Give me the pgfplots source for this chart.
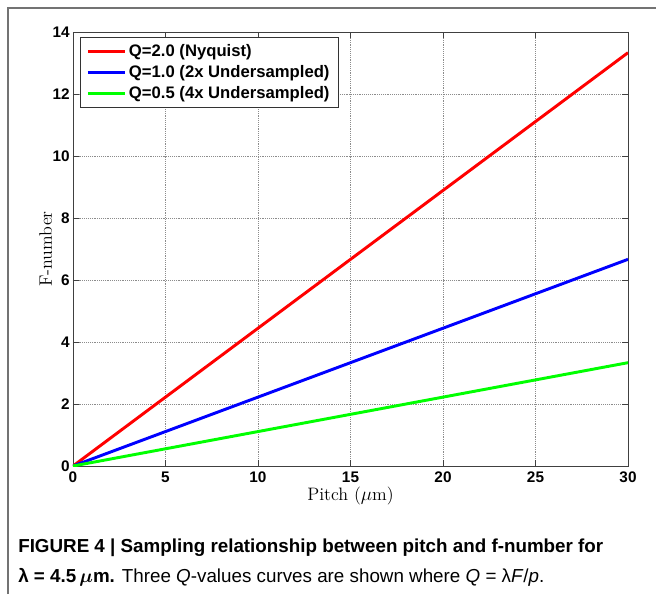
\documentclass[border=0pt]{standalone}
\usepackage{amsmath,amssymb}
\usepackage{fontspec}
\setsansfont{Liberation Sans}
\usepackage{pgfplots}
\pgfplotsset{compat=1.18}

\begin{document}
\begin{tikzpicture}[x=1pt,y=1pt]
\useasboundingbox (-54.75,-96) rectangle (437.25,349.5);
% outer frame (top and left)
\draw[black!55, line width=0.9pt] (-48.75,-96) -- (-48.75,343.5) -- (437.25,343.5);
\begin{axis}[
  at={(0,0)}, anchor=south west,
  scale only axis, width=416.25pt, height=325.5pt,
  xmin=0, xmax=30, ymin=0, ymax=14,
  xtick={0,5,...,30}, ytick={0,2,...,14},
  grid=major, grid style={densely dotted, black!45, line width=0.5pt},
  axis line style={black!75, line width=0.7pt},
  tick style={black!75, line width=0.7pt},
  tick align=inside, major tick length=4.5pt,
  xtick pos=both, ytick pos=both,
  ticklabel style={font=\sffamily\bfseries\fontsize{11.5}{12}\selectfont},
  /pgf/number format/assume math mode=true,
  xticklabel style={yshift=-1pt},
  yticklabel style={xshift=1pt},
  xlabel={Pitch ($\mu$m)}, ylabel={F-number},
  label style={font=\fontsize{13.5}{15}\selectfont},
  xlabel style={yshift=3.5pt},
  ylabel style={yshift=-6.5pt},
  legend style={at={(0.0126,0.9885)}, anchor=north west,
    font=\sffamily\bfseries\fontsize{12.5}{14}\selectfont,
    draw=black!80, line width=0.6pt, inner xsep=4.5pt, inner ysep=3pt,
    row sep=1.3pt},
  legend cell align=left,
  legend image code/.code={\draw[#1] (0pt,0pt) -- (27.75pt,0pt);},
]
\addplot[red, line width=2.2pt] coordinates {(0,0) (30,13.333)};
\addlegendentry{Q=2.0 (Nyquist)}
\addplot[blue, line width=2.2pt] coordinates {(0,0) (30,6.667)};
\addlegendentry{Q=1.0 (2x Undersampled)}
\addplot[green, line width=2.2pt] coordinates {(0,0) (30,3.333)};
\addlegendentry{Q=0.5 (4x Undersampled)}
\end{axis}
\node[anchor=base west, inner sep=0pt, font=\sffamily\bfseries\fontsize{14.1}{16}\selectfont]
  at (-41.25,-65) {FIGURE 4 | Sampling relationship between pitch and f-number for};
\node[anchor=base west, inner sep=0pt, font=\sffamily\fontsize{14.1}{16}\selectfont]
  at (-41.25,-87.5) {\textbf{λ = 4.5\,$\boldsymbol{\mu}$m.} Three \textit{Q}-values curves are shown where \textit{Q} = λ\textit{F}/\textit{p}.};
\end{tikzpicture}
\end{document}
